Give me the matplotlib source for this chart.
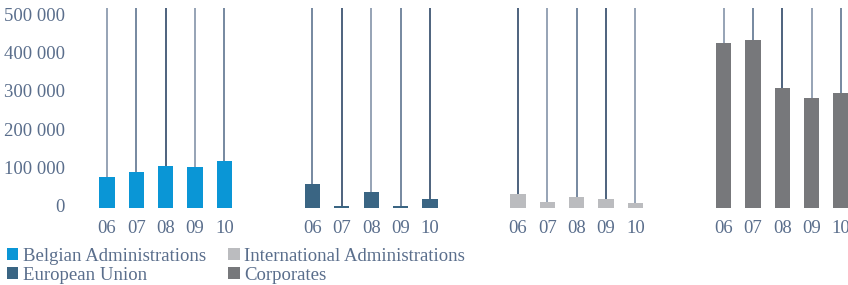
import numpy as np
import matplotlib.pyplot as plt
import matplotlib.transforms as mtransforms
from matplotlib.patches import Patch

years = ["06", "07", "08", "09", "10"]
categories = ["Belgian Administrations", "European Union",
              "International Administrations", "Corporates"]
belgian = [81000, 94000, 110000, 107000, 123000]
european = [63000, 5000, 42000, 5000, 24000]
international = [37000, 16000, 29000, 24000, 13000]
corporates = [432000, 440000, 314000, 288000, 301000]
series = [belgian, european, international, corporates]
colors = ["#0a96d6", "#3a6583", "#bbbcbf", "#77787b"]

text_col = "#5a6e8c"
line_cols = ["#8d9cb0", "#6b7f99", "#3f5673"]
plt.rcParams['font.family'] = ['Liberation Serif', 'DejaVu Serif']

fig = plt.figure(figsize=(8.48, 2.85), dpi=100)
ax = fig.add_axes([72 / 848, 1 - 210 / 285, 776 / 848, 202 / 285])

top = 523600
xticks = []
xlabels = []
for g in range(4):
    x = np.arange(5) + g * 7
    vals = series[g]
    ax.bar(x, vals, width=0.52, color=colors[g], zorder=3)
    for i in range(5):
        ax.vlines(x[i], vals[i], top, color=line_cols[(g + i) % 3],
                  linewidth=1.3, zorder=2)
    xticks += list(x)
    xlabels += years

ax.set_xlim(-1.19, 25.24)
ax.set_ylim(-5000, top)
ax.set_yticks([0, 100000, 200000, 300000, 400000, 500000])
ax.set_yticklabels(["0", "100 000", "200 000", "300 000", "400 000", "500 000"])
ax.set_xticks(xticks)
ax.set_xticklabels(xlabels)
ax.tick_params(length=0, labelsize=13.5, labelcolor=text_col)
ax.tick_params(axis="y", pad=5)
ax.tick_params(axis="x", pad=7)
for s in ax.spines.values():
    s.set_visible(False)

# labels sit a touch above their ticks in the original
shift = mtransforms.ScaledTranslation(0, 2.5 / 100, fig.dpi_scale_trans)
for lab in ax.get_yticklabels():
    lab.set_transform(lab.get_transform() + shift)

handles = [Patch(facecolor=colors[i], edgecolor="none") for i in range(4)]
fig.legend(handles, categories, loc="upper left", bbox_to_anchor=(0.008, 0.13),
           ncol=2, frameon=False, fontsize=13.5, labelcolor=text_col,
           handlelength=0.6, handleheight=0.6, handletextpad=0.25,
           columnspacing=1.2, labelspacing=0.1, borderaxespad=0, borderpad=0)

fig.savefig("out.png", dpi=100)
